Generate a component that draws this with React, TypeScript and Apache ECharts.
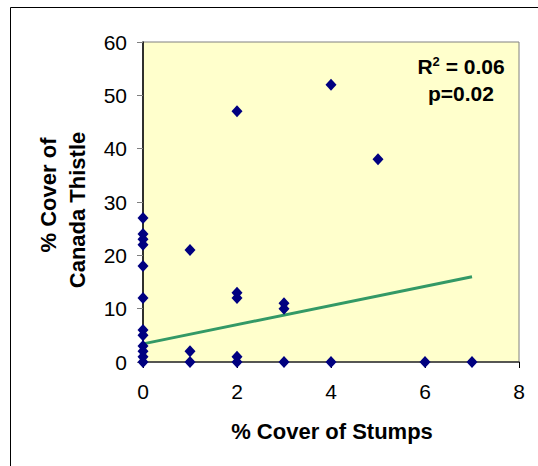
import React, { useEffect, useRef } from "react";
import * as echarts from "echarts";

const stumpsCover = [0, 0, 0, 0, 0, 0, 0, 0, 0, 0, 0, 0, 1, 1, 1, 2, 2, 2, 2, 2, 3, 3, 3, 4, 4, 5, 6, 7];
const thistleCover = [27, 24, 23, 22, 18, 12, 6, 5, 3, 2, 1, 0, 21, 2, 0, 47, 13, 12, 1, 0, 11, 10, 0, 52, 0, 38, 0, 0];
const trendX = [0, 7];
const trendY = [3.4, 16];
const xTicks = [0, 2, 4, 6, 8];
const yTicks = [0, 10, 20, 30, 40, 50, 60];
const statLines = ["R2 = 0.06", "p=0.02"];

export default function App() {
  const ref = useRef<HTMLDivElement>(null);
  useEffect(() => {
    if (!ref.current) return;
    const chart = echarts.init(ref.current, null, { renderer: "svg" });
    const font = "Arial, 'Liberation Sans', sans-serif";
    chart.setOption({
      animation: false,
      backgroundColor: "#ffffff",
      grid: {
        left: 143,
        top: 42,
        width: 376,
        height: 320,
        show: true,
        backgroundColor: "#FFFFCC",
        borderColor: "#808080",
        borderWidth: 1,
      },
      xAxis: {
        type: "value",
        min: xTicks[0],
        max: xTicks[xTicks.length - 1],
        interval: 2,
        axisLine: { show: true, onZero: false, lineStyle: { color: "#333333", width: 1.5 } },
        axisTick: { show: true, inside: false, length: 6, lineStyle: { color: "#000000" } },
        axisLabel: { margin: 19, fontSize: 21, color: "#000000", fontFamily: font },
        splitLine: { show: false },
      },
      yAxis: {
        type: "value",
        min: yTicks[0],
        max: yTicks[yTicks.length - 1],
        interval: 10,
        axisLine: { show: true, onZero: false, lineStyle: { color: "#000000", width: 1.5 } },
        axisTick: { show: true, inside: false, length: 6, lineStyle: { color: "#808080" } },
        axisLabel: { margin: 16, fontSize: 21, color: "#000000", fontFamily: font },
        splitLine: { show: false },
      },
      series: [
        {
          type: "line",
          data: trendX.map((x, i) => [x, trendY[i]]),
          symbol: "none",
          lineStyle: { color: "#339966", width: 3 },
          z: 2,
        },
        {
          type: "scatter",
          data: stumpsCover.map((x, i) => [x, thistleCover[i]]),
          symbol: "diamond",
          symbolSize: [11, 12],
          itemStyle: { color: "#000080", opacity: 1 },
          z: 3,
        },
      ],
      graphic: [
        {
          type: "rect",
          shape: { x: 10.5, y: 7.5, width: 560, height: 500 },
          style: { fill: "none", stroke: "#000000", lineWidth: 1 },
          z: -1,
          silent: true,
        },
        {
          type: "text",
          x: 332,
          y: 431,
          style: {
            text: "% Cover of Stumps",
            font: `bold 22px ${font}`,
            fill: "#000000",
            align: "center",
            verticalAlign: "middle",
          },
        },
        {
          type: "text",
          x: 48,
          y: 195,
          rotation: Math.PI / 2,
          style: {
            text: "% Cover of",
            font: `bold 22px ${font}`,
            fill: "#000000",
            align: "center",
            verticalAlign: "middle",
          },
        },
        {
          type: "text",
          x: 77,
          y: 210,
          rotation: Math.PI / 2,
          style: {
            text: "Canada Thistle",
            font: `bold 22px ${font}`,
            fill: "#000000",
            align: "center",
            verticalAlign: "middle",
          },
        },
        {
          type: "text",
          x: 461,
          y: 66,
          style: {
            text: "{a|R}{s|2}{a| = 0.06}",
            align: "center",
            verticalAlign: "middle",
            rich: {
              a: { font: `bold 21px ${font}`, fill: "#000000", verticalAlign: "bottom", lineHeight: 22 },
              s: { font: `bold 13px ${font}`, fill: "#000000", verticalAlign: "top", lineHeight: 22, padding: [0, 0, 8, 0] },
            },
          },
        },
        {
          type: "text",
          x: 461,
          y: 93,
          style: {
            text: statLines[1],
            font: `bold 21px ${font}`,
            fill: "#000000",
            align: "center",
            verticalAlign: "middle",
          },
        },
      ],
    });
    return () => chart.dispose();
  }, []);
  return (
    <div
      ref={ref}
      style={{ position: "fixed", left: 0, top: 0, width: 538, height: 466 }}
    />
  );
}
